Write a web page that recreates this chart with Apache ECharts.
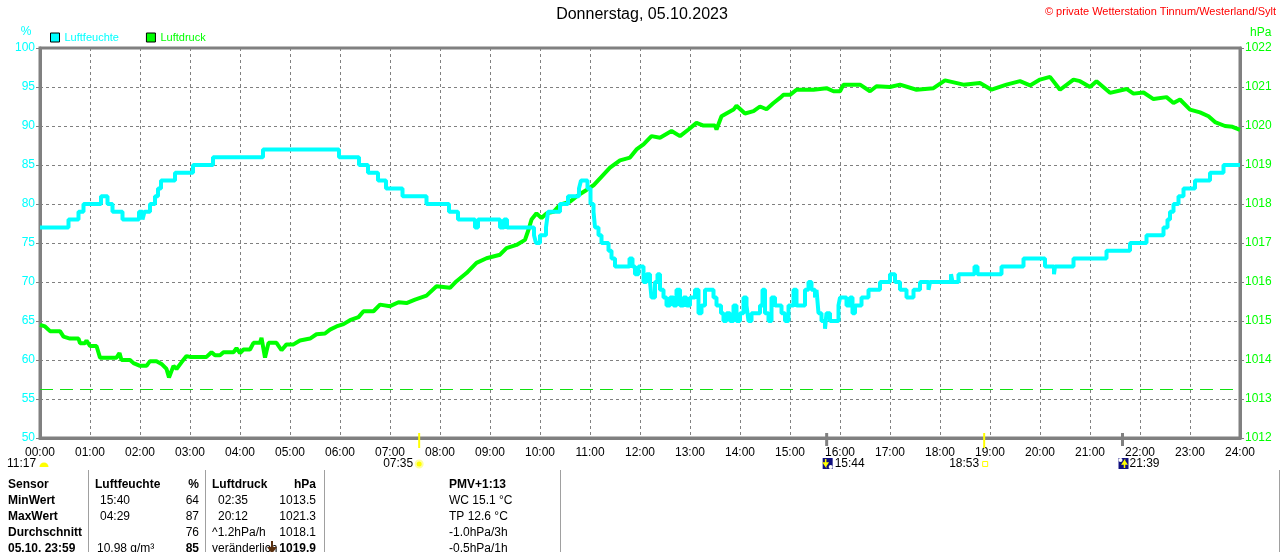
<!DOCTYPE html>
<html lang="de">
<head>
<meta charset="UTF-8">
<title>Donnerstag, 05.10.2023</title>
<script src="https://cdn.jsdelivr.net/npm/echarts@6/dist/echarts.min.js"></script>
<style>
  html, body { margin: 0; padding: 0; background: #fff; }
  #chart { width: 1280px; height: 552px; }
</style>
</head>
<body>
<div id="chart"></div>
<script>
// Luftfeuchte (%), Stufen: Zeit in Stunden, Wert gilt bis zum nächsten Punkt
const humTime = [0, 0.57, 0.77, 0.87, 1.22, 1.35, 1.45, 1.65, 1.98, 2.05, 2.09, 2.2, 2.3, 2.36, 2.42, 2.7, 3.06, 3.46, 4.46, 5.98,
  6.38, 6.56, 6.76, 6.92, 7.25, 7.73, 8.18, 8.36, 8.7, 8.76, 9.2, 9.28, 9.34, 9.88, 9.92, 10.0, 10.12, 10.16, 10.4, 10.56,
  10.78, 10.82, 10.95, 11.01, 11.07, 11.1, 11.17, 11.23, 11.37, 11.43, 11.5, 11.79, 11.85, 11.9, 11.97, 12.07, 12.13, 12.2, 12.23, 12.3,
  12.35, 12.4, 12.47, 12.53, 12.6, 12.67, 12.73, 12.8, 12.87, 12.93, 13.0, 13.1, 13.17, 13.23, 13.3, 13.47, 13.53, 13.62, 13.67, 13.73,
  13.8, 13.87, 13.93, 14.0, 14.07, 14.13, 14.17, 14.23, 14.4, 14.45, 14.5, 14.57, 14.63, 14.7, 14.83, 14.9, 14.97, 15.07, 15.13, 15.3,
  15.37, 15.43, 15.5, 15.53, 15.57, 15.63, 15.7, 15.73, 15.8, 15.97, 16.0, 16.13, 16.2, 16.25, 16.3, 16.43, 16.57, 16.8, 17.0, 17.1,
  17.2, 17.33, 17.47, 17.6, 17.77, 17.8, 18.22, 18.25, 18.37, 18.69, 18.75, 19.23, 19.67, 20.1, 20.28, 20.3, 20.67, 21.33, 21.8, 22.13,
  22.47, 22.55, 22.6, 22.67, 22.77, 22.87, 23.1, 23.4, 23.67, 24.0];
const humValue = [77, 78, 79, 80, 81, 80, 79, 78, 79, 78, 79, 80, 81, 82, 83, 84, 85, 86, 87, 86,
  85, 84, 83, 82, 81, 80, 79, 78, 77, 78, 77, 78, 77, 76, 75, 76, 77, 79, 80, 81,
  82, 83, 82, 80, 79, 77, 76, 75, 74, 73, 72, 73, 72, 71, 72, 70, 71, 70, 68, 70,
  71, 69, 68, 67, 68, 67, 69, 67, 68, 67, 68, 69, 66, 67, 69, 68, 67, 66, 65, 66,
  65, 67, 65, 66, 68, 67, 65, 66, 67, 69, 66, 65, 68, 67, 66, 65, 67, 69, 67, 69,
  70, 69, 68, 69, 66, 65, 64, 66, 65, 67, 68, 67, 68, 66, 67, 68, 69, 70, 71, 70,
  69, 68, 69, 70, 69, 70, 71, 70, 71, 72, 71, 72, 73, 72, 71, 72, 73, 74, 75, 76,
  77, 78, 79, 80, 81, 82, 83, 84, 85, 85];

// Luftdruck (hPa)
const presTime = [0, 0.1, 0.2, 0.4, 0.47, 0.6, 0.77, 0.8, 0.9, 0.93, 1.0, 1.13, 1.2, 1.53, 1.59, 1.63, 1.8, 1.87, 2.0, 2.13,
  2.2, 2.33, 2.43, 2.53, 2.58, 2.67, 2.73, 2.83, 2.93, 3.0, 3.33, 3.43, 3.5, 3.6, 3.67, 3.87, 3.93, 4.0, 4.07, 4.2,
  4.27, 4.4, 4.43, 4.5, 4.57, 4.73, 4.83, 4.93, 5.07, 5.2, 5.4, 5.53, 5.7, 5.8, 5.93, 6.07, 6.2, 6.37, 6.47, 6.67,
  6.8, 7.0, 7.17, 7.33, 7.5, 7.73, 7.93, 8.2, 8.33, 8.53, 8.73, 8.93, 9.2, 9.33, 9.53, 9.7, 9.77, 9.83, 9.93, 10.03,
  10.13, 10.27, 10.4, 10.6, 10.77, 10.93, 11.07, 11.4, 11.6, 11.8, 11.93, 12.07, 12.23, 12.4, 12.63, 12.8, 12.97, 13.13, 13.27, 13.5,
  13.53, 13.63, 13.87, 13.93, 14.1, 14.27, 14.4, 14.53, 14.67, 14.8, 14.87, 15.0, 15.13, 15.47, 15.73, 15.87, 16.0, 16.07, 16.4, 16.6,
  16.73, 17.0, 17.2, 17.53, 17.87, 18.1, 18.47, 18.8, 19.03, 19.33, 19.6, 19.8, 20.0, 20.2, 20.4, 20.67, 20.8, 21.0, 21.13, 21.4,
  21.73, 21.87, 22.07, 22.27, 22.53, 22.67, 22.8, 23.0, 23.2, 23.37, 23.5, 23.7, 23.85, 24.0];
const presValue = [1014.9, 1014.86, 1014.74, 1014.74, 1014.6, 1014.55, 1014.55, 1014.43, 1014.43, 1014.5, 1014.36, 1014.36, 1014.06, 1014.06, 1014.18, 1014.0, 1014.0, 1013.92, 1013.85, 1013.85,
  1013.97, 1013.97, 1013.9, 1013.77, 1013.55, 1013.85, 1013.77, 1013.94, 1014.1, 1014.08, 1014.08, 1014.2, 1014.12, 1014.12, 1014.2, 1014.2, 1014.3, 1014.18, 1014.27, 1014.27,
  1014.44, 1014.44, 1014.57, 1014.06, 1014.44, 1014.44, 1014.25, 1014.4, 1014.4, 1014.5, 1014.55, 1014.66, 1014.68, 1014.78, 1014.86, 1014.92, 1015.02, 1015.1, 1015.25, 1015.25,
  1015.42, 1015.38, 1015.48, 1015.46, 1015.55, 1015.65, 1015.89, 1015.85, 1016.02, 1016.23, 1016.49, 1016.61, 1016.7, 1016.87, 1016.95, 1017.08, 1017.34, 1017.6, 1017.76, 1017.64,
  1017.76, 1017.8, 1017.98, 1018.06, 1018.23, 1018.36, 1018.48, 1018.93, 1019.12, 1019.19, 1019.4, 1019.53, 1019.74, 1019.7, 1019.87, 1019.74, 1019.91, 1020.08, 1020.01, 1020.01,
  1019.91, 1020.25, 1020.42, 1020.52, 1020.32, 1020.38, 1020.5, 1020.43, 1020.59, 1020.72, 1020.8, 1020.8, 1020.93, 1020.93, 1020.97, 1020.89, 1020.89, 1021.06, 1021.06, 1020.89,
  1021.02, 1021.0, 1021.06, 1020.93, 1020.97, 1021.17, 1021.06, 1021.1, 1020.93, 1021.06, 1021.15, 1021.04, 1021.19, 1021.26, 1020.93, 1021.19, 1021.15, 1021.0, 1021.15, 1020.85,
  1020.95, 1020.83, 1020.86, 1020.69, 1020.74, 1020.59, 1020.68, 1020.42, 1020.35, 1020.25, 1020.1, 1020.0, 1019.98, 1019.9];

const normalDruck = 1013.25;

// Sonne / Mond Ereignisse
const eventTimes = [7 + 35 / 60, 15 + 44 / 60, 18 + 53 / 60, 21 + 39 / 60];
const eventLabels = ['07:35', '15:44', '18:53', '21:39'];
const eventColors = ['#ffff00', '#808080', '#ffff00', '#808080'];

// Tabelle unten
const tableRows = [
  ['Sensor', 'Luftfeuchte', '%', 'Luftdruck', 'hPa', 'PMV+1:13'],
  ['MinWert', '15:40', '64', '02:35', '1013.5', 'WC 15.1 °C'],
  ['MaxWert', '04:29', '87', '20:12', '1021.3', 'TP 12.6 °C'],
  ['Durchschnitt', '', '76', '^1.2hPa/h', '1018.1', '-1.0hPa/3h'],
  ['05.10. 23:59', '10.98 g/m³', '85', 'veränderlich', '1019.9', '-0.5hPa/1h']
];

const pad = n => (n < 10 ? '0' : '') + n;
const font = '"Liberation Sans", Arial, sans-serif';

const chart = echarts.init(document.getElementById('chart'), null, { renderer: 'canvas' });

const option = {
  animation: false,
  backgroundColor: '#ffffff',
  textStyle: { fontFamily: font },
  grid: { left: 40, right: 40, top: 48, bottom: 114, show: true, borderColor: '#808080', borderWidth: 3, backgroundColor: 'transparent' },
  legend: {
    left: 50, top: 32, padding: 0, itemWidth: 9, itemHeight: 9, itemGap: 27, icon: 'rect',
    itemStyle: { borderColor: '#000', borderWidth: 1 },
    textStyle: { fontSize: 11, fontFamily: font },
    data: [
      { name: 'Luftfeuchte', textStyle: { color: '#00ffff' } },
      { name: 'Luftdruck', textStyle: { color: '#00ff00' } }
    ]
  },
  xAxis: {
    type: 'value', min: 0, max: 24, interval: 1,
    axisLine: { show: true, lineStyle: { color: '#808080', width: 3 } },
    axisTick: { show: false },
    axisLabel: { color: '#000', fontSize: 12, margin: 9, showMinLabel: true, showMaxLabel: true, formatter: v => pad(v) + ':00' },
    splitLine: { show: true, lineStyle: { color: '#808080', type: [3, 3], width: 1 } }
  },
  yAxis: [
    {
      type: 'value', min: 50, max: 100, interval: 5, position: 'left',
      axisLine: { show: true, lineStyle: { color: '#808080', width: 3 } },
      axisTick: { show: true, length: 4, lineStyle: { color: '#808080', width: 1 } },
      axisLabel: { color: '#00ffff', fontSize: 12, margin: 5 },
      splitLine: { show: true, lineStyle: { color: '#808080', type: [3, 3], width: 1 } }
    },
    {
      type: 'value', min: 1012, max: 1022, interval: 1, position: 'right',
      axisLine: { show: true, lineStyle: { color: '#808080', width: 3 } },
      axisTick: { show: true, length: 4, lineStyle: { color: '#808080', width: 1 } },
      axisLabel: { color: '#00ff00', fontSize: 12, margin: 5, formatter: v => String(v) },
      splitLine: { show: false }
    }
  ],
  series: [
    {
      name: 'Luftdruck', type: 'line', yAxisIndex: 1, showSymbol: false, z: 3,
      itemStyle: { color: '#00ff00' },
      lineStyle: { color: '#00ff00', width: 4 },
      data: presTime.map((t, i) => [t, presValue[i]]),
      markLine: {
        silent: true, symbol: 'none', label: { show: false },
        lineStyle: { color: '#10e010', type: [13, 7], width: 1.2, opacity: 1 },
        data: [{ yAxis: normalDruck }]
      }
    },
    {
      name: 'Luftfeuchte', type: 'line', yAxisIndex: 0, showSymbol: false, step: 'end', z: 4,
      itemStyle: { color: '#00ffff' },
      lineStyle: { color: '#00ffff', width: 4 },
      data: humTime.map((t, i) => [t, humValue[i]])
    }
  ]
};
chart.setOption(option);

// Beschriftungen, Ereignismarken und Tabelle
const g = [];
const txt = (x, y, text, opt) => g.push({
  type: 'text', x: x, y: y, z: 10,
  style: Object.assign({ text: text, fill: '#000', font: '12px ' + font, verticalAlign: 'middle' }, opt || {})
});

txt(642, 15, 'Donnerstag, 05.10.2023', { align: 'center', font: '16px ' + font });
txt(1276, 12, '© private Wetterstation Tinnum/Westerland/Sylt', { align: 'right', fill: '#ff0000', font: '11px ' + font });
txt(26, 32, '%', { align: 'center', fill: '#00ffff' });
txt(1250, 33, 'hPa', { fill: '#00ff00' });

const axisY = chart.convertToPixel({ yAxisIndex: 0 }, 50);
eventTimes.forEach((t, i) => {
  const px = chart.convertToPixel({ xAxisIndex: 0 }, t);
  const yellow = eventColors[i] === '#ffff00';
  g.push({ type: 'line', z: 9, shape: { x1: px, y1: axisY - 5, x2: px, y2: axisY + (yellow ? 10 : 8) },
    style: { stroke: eventColors[i], lineWidth: yellow ? 2 : 3 } });
});

// Mondphase links
txt(7, 464, '11:17');
g.push({ type: 'sector', z: 10, shape: { cx: 44, cy: 467, r: 4.5, r0: 0, startAngle: Math.PI, endAngle: 2 * Math.PI }, style: { fill: '#ffff00' } });

// Sonnenaufgang
let px = chart.convertToPixel({ xAxisIndex: 0 }, eventTimes[0]);
txt(px - 6, 464, eventLabels[0], { align: 'right' });
g.push({ type: 'circle', z: 10, shape: { cx: px, cy: 464, r: 3.5 }, style: { fill: '#ffff00', stroke: '#ffffa0', lineWidth: 2 } });

// Monduntergang
px = chart.convertToPixel({ xAxisIndex: 0 }, eventTimes[1]);
g.push({ type: 'rect', z: 10, shape: { x: px - 4, y: 458, width: 10, height: 11 }, style: { fill: '#101080' } });
g.push({ type: 'polyline', z: 11, shape: { points: [[px - 1, 459], [px - 1, 466], [px - 3, 463], [px + 1, 463], [px - 1, 466]] }, style: { stroke: '#ffff00', lineWidth: 1.5, fill: null } });
g.push({ type: 'circle', z: 11, shape: { cx: px + 4, cy: 467, r: 2 }, style: { fill: '#ffffff' } });
txt(px + 8, 464, eventLabels[1]);

// Sonnenuntergang
px = chart.convertToPixel({ xAxisIndex: 0 }, eventTimes[2]);
txt(px - 5, 464, eventLabels[2], { align: 'right' });
g.push({ type: 'rect', z: 10, shape: { x: px - 1.5, y: 461.5, width: 5, height: 5 }, style: { fill: null, stroke: '#ffff00', lineWidth: 1 } });

// Mondaufgang
px = chart.convertToPixel({ xAxisIndex: 0 }, eventTimes[3]);
g.push({ type: 'rect', z: 10, shape: { x: px - 4, y: 458, width: 10, height: 11 }, style: { fill: '#101080' } });
g.push({ type: 'polyline', z: 11, shape: { points: [[px + 2, 468], [px + 2, 461], [px, 464], [px + 4, 464], [px + 2, 461]] }, style: { stroke: '#ffff00', lineWidth: 1.5, fill: null } });
g.push({ type: 'circle', z: 11, shape: { cx: px - 2, cy: 460, r: 2 }, style: { fill: '#ffffff' } });
txt(px + 7, 464, eventLabels[3]);

// Tabelle
[88, 205, 324, 560, 1279].forEach(x => g.push({ type: 'line', z: 9, shape: { x1: x + 0.5, y1: 470, x2: x + 0.5, y2: 552 }, style: { stroke: '#a0a0a0', lineWidth: 1 } }));
const rowY = [485, 501, 517, 533, 549];
tableRows.forEach((r, i) => {
  const y = rowY[i];
  const head = i === 0;
  const b = '12px ' + font, bb = 'bold 12px ' + font;
  txt(8, y, r[0], { font: bb });
  txt(head ? 95 : (i === 4 ? 97 : 100), y, r[1], { font: head ? bb : b });
  txt(199, y, r[2], { align: 'right', font: head || i === 4 ? bb : b });
  txt(i === 0 || i >= 3 ? 212 : 218, y, r[3], { font: head ? bb : b });
  txt(316, y, r[4], { align: 'right', font: head || i === 4 ? bb : b, backgroundColor: i === 4 ? '#fff' : null });
  txt(449, y, r[5], { font: head ? bb : b });
});
// Tendenzpfeil
g.push({ type: 'polyline', z: 12, shape: { points: [[272, 541], [272, 552], [269, 548], [275, 548], [272, 552]] }, style: { stroke: '#5a3010', lineWidth: 2, fill: null } });

chart.setOption({ graphic: g });
</script>
</body>
</html>
